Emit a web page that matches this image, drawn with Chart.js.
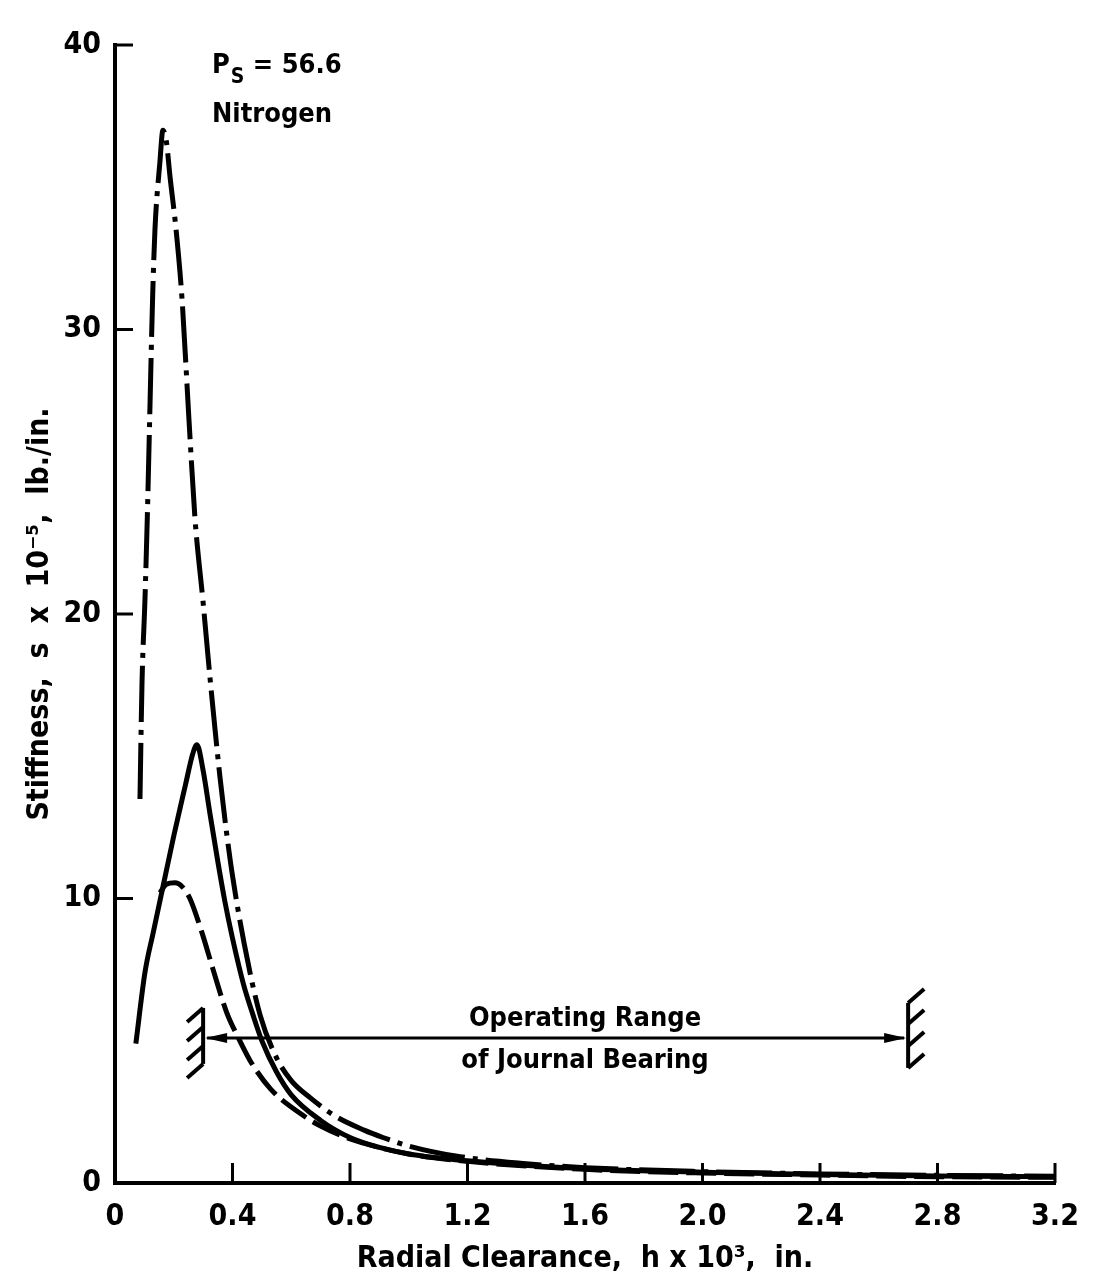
<!DOCTYPE html>
<html>
<head>
<meta charset="utf-8">
<script src="https://cdn.jsdelivr.net/npm/chart.js@4.4.1/dist/chart.umd.min.js"></script>
<style>
  html, body { margin: 0; padding: 0; background: #fff; }
  #wrap { width: 1095px; height: 1285px; }
</style>
</head>
<body>
<div id="wrap"><canvas id="stiffnessChart" width="1095" height="1285"></canvas></div>
<script>
const FONT = "'Liberation Sans Narrow', 'DejaVu Sans Condensed', 'Arial Narrow', sans-serif";

// Radial clearance h x 10^3 (in.) vs stiffness s x 10^-5 (lb./in.)
const dashDotX = [0.085, 0.092, 0.102, 0.110, 0.117, 0.128, 0.136, 0.153, 0.163, 0.175, 0.187, 0.208, 0.228, 0.252, 0.272, 0.300, 0.323, 0.340, 0.357, 0.380, 0.400, 0.440, 0.494, 0.550, 0.600, 0.664, 0.750, 0.850, 0.912, 1.000, 1.160, 1.400, 1.600, 2.000, 2.400, 2.800, 3.200];
const dashDotY = [13.5, 17.6, 20.5, 23.4, 26.4, 31.1, 33.5, 35.9, 37.0, 36.6, 35.4, 33.5, 31.1, 26.8, 23.4, 20.4, 17.8, 16.0, 14.3, 12.3, 10.8, 8.4, 5.9, 4.4, 3.6, 3.0, 2.35, 1.85, 1.6, 1.3, 0.95, 0.68, 0.54, 0.40, 0.32, 0.27, 0.24];

const solidX = [0.071, 0.102, 0.130, 0.163, 0.200, 0.240, 0.265, 0.279, 0.300, 0.323, 0.350, 0.374, 0.400, 0.437, 0.470, 0.500, 0.550, 0.600, 0.700, 0.800, 0.900, 1.000, 1.200, 1.600, 2.000, 2.400, 2.800, 3.200];
const solidY = [4.9, 7.4, 8.8, 10.4, 12.2, 14.0, 15.1, 15.4, 14.5, 13.0, 11.3, 9.9, 8.6, 7.0, 5.9, 5.0, 3.9, 3.1, 2.2, 1.6, 1.25, 1.02, 0.78, 0.50, 0.38, 0.30, 0.25, 0.22];

const dashedX = [0.153, 0.175, 0.204, 0.230, 0.255, 0.296, 0.334, 0.380, 0.420, 0.460, 0.530, 0.630, 0.700, 0.800, 1.000, 1.200, 1.600, 2.000, 2.400, 2.800, 3.200];
const dashedY = [10.2, 10.5, 10.55, 10.4, 10.0, 8.8, 7.5, 6.0, 5.1, 4.3, 3.3, 2.45, 2.0, 1.55, 1.02, 0.76, 0.48, 0.35, 0.28, 0.22, 0.2];

const xTicks = [0, 0.4, 0.8, 1.2, 1.6, 2.0, 2.4, 2.8, 3.2];
const yTicks = [0, 10, 20, 30, 40];

// operating range of journal bearing (x from..to, at stiffness level)
const rangeStart = 0.3;
const rangeEnd = 2.7;
const rangeLevel = 5.1;

function toPoints(xs, ys) {
    return xs.map((x, i) => ({ x: x, y: ys[i] }));
}

// inward ticks, operating range arrow and the text notes
const extras = {
    id: 'extras',
    afterDraw(chart) {
        const ctx = chart.ctx;
        const xs = chart.scales.x;
        const ys = chart.scales.y;
        const area = chart.chartArea;
        ctx.save();
        ctx.strokeStyle = '#000';
        ctx.fillStyle = '#000';
        ctx.lineCap = 'butt';

        // tick marks pointing into the plot
        ctx.lineWidth = 3;
        yTicks.slice(1).forEach(v => {
            const py = ys.getPixelForValue(v);
            ctx.beginPath();
            ctx.moveTo(area.left, py);
            ctx.lineTo(area.left + 18, py);
            ctx.stroke();
        });
        xTicks.slice(1).forEach(v => {
            const px = xs.getPixelForValue(v);
            ctx.beginPath();
            ctx.moveTo(px, area.bottom);
            ctx.lineTo(px, area.bottom - 20);
            ctx.stroke();
        });

        // arrow line
        const x1 = xs.getPixelForValue(rangeStart);
        const x2 = xs.getPixelForValue(rangeEnd);
        const ay = ys.getPixelForValue(rangeLevel);
        ctx.lineWidth = 3;
        ctx.beginPath();
        ctx.moveTo(x1 + 4, ay);
        ctx.lineTo(x2 - 4, ay);
        ctx.stroke();
        // arrow heads
        ctx.beginPath();
        ctx.moveTo(x1 + 2, ay);
        ctx.lineTo(x1 + 24, ay - 5);
        ctx.lineTo(x1 + 24, ay + 5);
        ctx.closePath();
        ctx.fill();
        ctx.beginPath();
        ctx.moveTo(x2 - 2, ay);
        ctx.lineTo(x2 - 24, ay - 5);
        ctx.lineTo(x2 - 24, ay + 5);
        ctx.closePath();
        ctx.fill();

        // hatched wall at left end
        ctx.lineWidth = 4;
        ctx.beginPath();
        ctx.moveTo(x1, ay - 30);
        ctx.lineTo(x1, ay + 26);
        ctx.stroke();
        [-30, -11, 8, 26].forEach(d => {
            ctx.beginPath();
            ctx.moveTo(x1, ay + d);
            ctx.lineTo(x1 - 16, ay + d + 14);
            ctx.stroke();
        });
        // hatched wall at right end
        ctx.beginPath();
        ctx.moveTo(x2, ay - 35);
        ctx.lineTo(x2, ay + 30);
        ctx.stroke();
        [-35, -14, 8, 30].forEach(d => {
            ctx.beginPath();
            ctx.moveTo(x2, ay + d);
            ctx.lineTo(x2 + 16, ay + d - 14);
            ctx.stroke();
        });

        // range label
        const midX = xs.getPixelForValue(1.6);
        ctx.font = 'bold 27px ' + FONT;
        ctx.textAlign = 'center';
        ctx.textBaseline = 'alphabetic';
        ctx.fillText('Operating Range', midX, ay - 12);
        ctx.fillText('of Journal Bearing', midX, ay + 30);

        // supply pressure and gas
        const tx = area.left + 97;
        ctx.textAlign = 'left';
        ctx.font = 'bold 27px ' + FONT;
        ctx.fillText('P', tx, area.top + 28);
        let w = ctx.measureText('P').width;
        ctx.font = 'bold 21px ' + FONT;
        ctx.fillText('S', tx + w + 1, area.top + 38);
        w += ctx.measureText('S').width + 1;
        ctx.font = 'bold 27px ' + FONT;
        ctx.fillText(' = 56.6', tx + w, area.top + 28);
        ctx.fillText('Nitrogen', tx, area.top + 77);
        ctx.restore();
    }
};

const ctx = document.getElementById('stiffnessChart');
new Chart(ctx.getContext('2d'), {
    type: 'line',
    data: {
        datasets: [
            {
                label: 'dash-dot',
                data: toPoints(dashDotX, dashDotY),
                borderColor: '#000',
                borderWidth: 5,
                borderDash: [56, 8, 5, 8],
                pointRadius: 0,
                fill: false,
                cubicInterpolationMode: 'monotone'
            },
            {
                label: 'solid',
                data: toPoints(solidX, solidY),
                borderColor: '#000',
                borderWidth: 5,
                pointRadius: 0,
                fill: false,
                cubicInterpolationMode: 'monotone'
            },
            {
                label: 'dashed',
                data: toPoints(dashedX, dashedY),
                borderColor: '#000',
                borderWidth: 5,
                borderDash: [30, 8],
                pointRadius: 0,
                fill: false,
                cubicInterpolationMode: 'monotone'
            }
        ]
    },
    options: {
        responsive: false,
        animation: false,
        layout: { padding: { top: 45, right: 40, bottom: 0, left: 0 } },
        plugins: {
            legend: { display: false },
            tooltip: { enabled: false }
        },
        scales: {
            x: {
                type: 'linear',
                min: 0,
                max: 3.2,
                afterBuildTicks: s => { s.ticks = xTicks.map(v => ({ value: v })); },
                afterFit: s => { s.height = 102; },
                grid: { display: false, drawTicks: false },
                border: { display: true, color: '#000', width: 4 },
                ticks: {
                    color: '#000',
                    padding: 16,
                    maxRotation: 0,
                    font: { family: FONT, size: 30, weight: 'bold' },
                    callback: v => v === 0 ? '0' : v.toFixed(1)
                },
                title: {
                    display: true,
                    text: 'Radial Clearance,  h x 10³,  in.',
                    color: '#000',
                    font: { family: FONT, size: 30, weight: 'bold' },
                    padding: { top: 0, bottom: 8 }
                }
            },
            y: {
                min: 0,
                max: 40,
                afterBuildTicks: s => { s.ticks = yTicks.map(v => ({ value: v })); },
                afterFit: s => { s.width = 115; },
                grid: { display: false, drawTicks: false },
                border: { display: true, color: '#000', width: 4 },
                ticks: {
                    color: '#000',
                    padding: 14,
                    font: { family: FONT, size: 30, weight: 'bold' },
                    callback: v => String(v)
                },
                title: {
                    display: true,
                    text: 'Stiffness,  s  x  10⁻⁵,  lb./in.',
                    color: '#000',
                    font: { family: FONT, size: 30, weight: 'bold' },
                    padding: { top: 22, bottom: 0 }
                }
            }
        }
    },
    plugins: [extras]
});
</script>
</body>
</html>
